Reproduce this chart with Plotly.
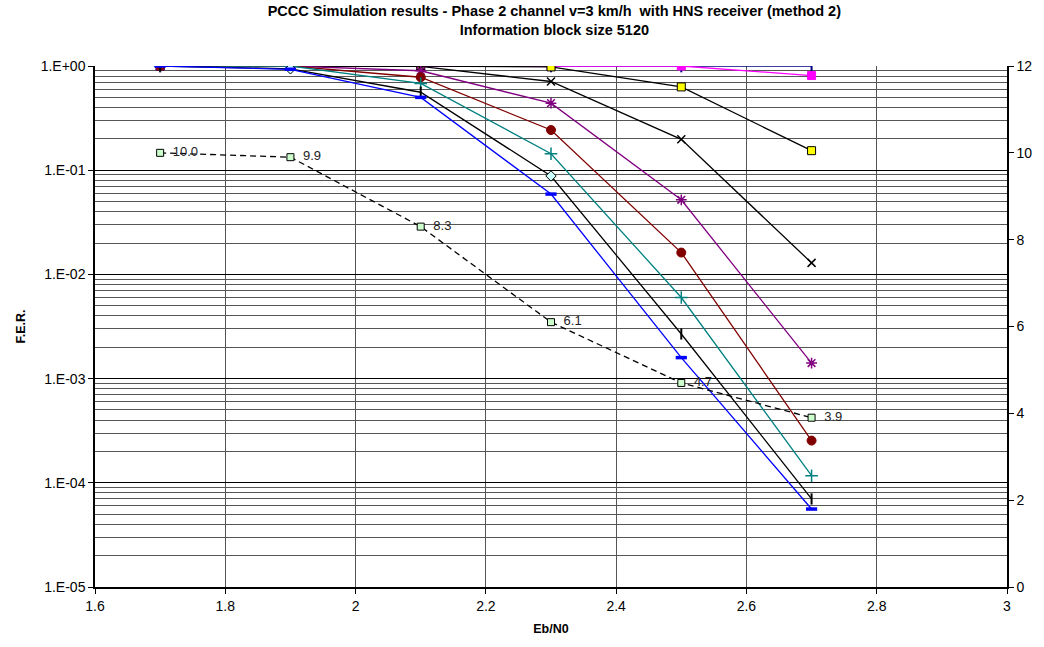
import plotly.graph_objects as go

# ---------------- data ----------------
ebn0 = [1.7, 1.9, 2.1, 2.3, 2.5, 2.7]

fer_navy    = [1.0, 1.0, 1.0, 1.0, 1.0, 1.0]
fer_magenta = [1.0, 1.0, 1.0, 1.0, 1.0, 0.81]
fer_yellow  = [1.0, 1.0, 1.0, 0.98, 0.63, 0.154]
fer_blackx  = [1.0, 1.0, 0.99, 0.71, 0.198, 0.0129]
fer_purple  = [1.0, 1.0, 0.90, 0.44, 0.052, 0.00141]
fer_darkred = [1.0, 1.0, 0.78, 0.243, 0.0162, 0.000254]
fer_teal    = [1.0, 1.0, 0.68, 0.144, 0.0060, 0.000117]
fer_blackbar = [1.0, 0.94, 0.56, 0.088, 0.00268, 7.0e-5]
fer_blue    = [1.0, 0.93, 0.50, 0.059, 0.00159, 5.6e-5]

iterations = [10.0, 9.9, 8.3, 6.1, 4.7, 3.9]

y_tickvals = [1e0, 1e-1, 1e-2, 1e-3, 1e-4, 1e-5]
y_ticktext = ["1.E+00", "1.E-01", "1.E-02", "1.E-03", "1.E-04", "1.E-05"]
x_tickvals = [1.6, 1.8, 2.0, 2.2, 2.4, 2.6, 2.8, 3.0]
x_ticktext = ["1.6", "1.8", "2", "2.2", "2.4", "2.6", "2.8", "3"]
y2_tickvals = [0, 2, 4, 6, 8, 10, 12]

FONT = "Liberation Sans, Arial, sans-serif"

fig = go.Figure()

def add(y, color, marker, lw=1.3):
    fig.add_trace(go.Scatter(x=ebn0, y=y, mode="lines+markers",
                             line=dict(color=color, width=lw),
                             marker=marker, showlegend=False))

add(fer_navy, "#000080", dict(symbol="line-ns", size=9, color="#000080",
                              line=dict(color="#000080", width=2)))
add(fer_magenta, "#FF00FF", dict(symbol="square", size=8, color="#FF00FF",
                                 line=dict(color="#FF00FF", width=1)))
add(fer_yellow, "#000000", dict(symbol="square", size=8, color="#FFFF00",
                                line=dict(color="#000000", width=1)))
add(fer_blackx, "#000000", dict(symbol="x-thin", size=8,
                                line=dict(color="#000000", width=1.5)))
add(fer_purple, "#800080", dict(symbol="asterisk", size=9,
                                line=dict(color="#800080", width=1.5)))
add(fer_darkred, "#800000", dict(symbol="circle", size=9, color="#800000",
                                 line=dict(color="#800000", width=1)))
add(fer_teal, "#008080", dict(symbol="cross-thin", size=9,
                              line=dict(color="#008080", width=1.5)))
add(fer_blackbar, "#000000",
    dict(symbol=["line-ns", "diamond", "line-ns", "diamond", "line-ns", "line-ns"],
         size=8, color="#CCFFFF",
         line=dict(color="#000000", width=[2, 1, 2, 1, 2, 2])))
add(fer_blue, "#0000FF", dict(symbol="line-ew", size=8, color="#0000FF",
                              line=dict(color="#0000FF", width=3.5)))

fig.add_trace(go.Scatter(
    x=ebn0, y=iterations, yaxis="y2", mode="lines+markers+text",
    line=dict(color="#000000", width=1.3, dash="6px,4px"),
    marker=dict(symbol="square", size=7, color="#CCFFCC",
                line=dict(color="#000000", width=1)),
    text=["  " + f"{v:.1f}" for v in iterations], textposition="middle right",
    textfont=dict(family=FONT, size=13, color="#222222"),
    showlegend=False))

minor_vals = [m * 10 ** e for e in range(-5, 0) for m in range(2, 10)]
TICKFONT = dict(family=FONT, size=14, color="#000000")

fig.update_layout(
    width=1044, height=647,
    margin=dict(l=95, r=30, t=66, b=60),
    paper_bgcolor="white", plot_bgcolor="white",
    font=dict(family=FONT, size=13, color="#000000"),
    title=dict(text="<b>PCCC Simulation results - Phase 2 channel v=3 km/h  with HNS receiver (method 2)<br>Information block size 5120</b>",
               x=0.531, xanchor="center", yref="container", y=0.975, yanchor="top",
               font=dict(family=FONT, size=14.5, color="#000000")),
    xaxis=dict(range=[1.6, 3.0], tickvals=x_tickvals, ticktext=x_ticktext,
               tickfont=TICKFONT,
               showgrid=True, gridcolor="#555555", gridwidth=1,
               showline=True, linecolor="#000000", linewidth=1.5,
               ticks="outside", ticklen=5, tickcolor="#000000",
               zeroline=False,
               title=dict(text="<b>Eb/N0</b>", font=dict(family=FONT, size=12.5), standoff=12)),
    yaxis=dict(type="log", range=[-5, 0], tickvals=y_tickvals, ticktext=y_ticktext,
               tickfont=TICKFONT,
               showgrid=True, gridcolor="#000000", gridwidth=1,
               minor=dict(tickvals=minor_vals, showgrid=True, gridcolor="#555555",
                          gridwidth=1, ticks=""),
               showline=True, linecolor="#000000", linewidth=1.5,
               ticks="outside", ticklen=5, tickcolor="#000000",
               zeroline=False,
               title=dict(text="<b>F.E.R.</b>", font=dict(family=FONT, size=12.5), standoff=12)),
    yaxis2=dict(overlaying="y", side="right", range=[0, 12], tickvals=y2_tickvals,
                tickfont=TICKFONT,
                showgrid=False, zeroline=False,
                showline=True, linecolor="#000000", linewidth=1.5,
                ticks="outside", ticklen=5, tickcolor="#000000"),
)

fig.write_html("out.html")
